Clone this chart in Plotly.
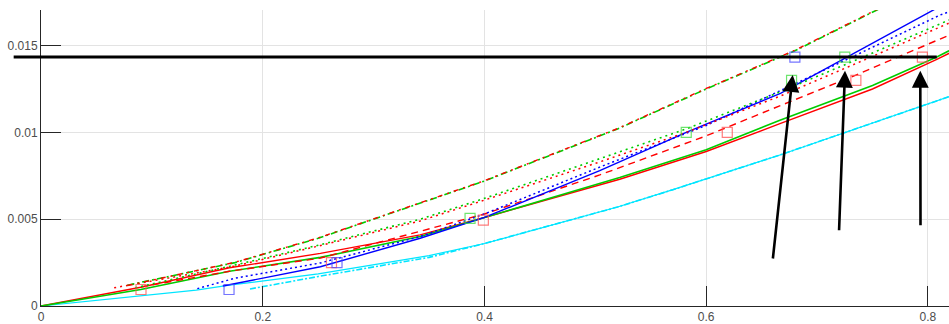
import plotly.graph_objects as go

# ---- data ----
x_ticks = [0, 0.2, 0.4, 0.6, 0.8]
x_tick_text = ["0", "0.2", "0.4", "0.6", "0.8"]
y_ticks = [0, 0.005, 0.01, 0.015]
y_tick_text = ["0", "0.005", "0.01", "0.015"]

cyan_solid_x = [0, 0.14, 0.17, 0.25, 0.35, 0.40, 0.52, 0.57, 0.6665, 0.819, 0.83]
cyan_solid_y = [0, 0.00092, 0.0012, 0.00185, 0.0029, 0.0036, 0.0057, 0.0067, 0.0087, 0.0121, 0.0123]
cyan_dashdot_x = [0.1885, 0.25, 0.35, 0.40, 0.52, 0.57, 0.6665, 0.819, 0.83]
cyan_dashdot_y = [0.00098, 0.0017, 0.0028, 0.0036, 0.0057, 0.0067, 0.0087, 0.0121, 0.0123]

red_solid_x = [0, 0.09, 0.17, 0.252, 0.342, 0.40, 0.522, 0.60, 0.6665, 0.75, 0.808, 0.819, 0.83]
red_solid_y = [0, 0.00108, 0.0022, 0.00303, 0.0041, 0.0051, 0.0073, 0.0089, 0.0105, 0.0125, 0.0142, 0.01455, 0.0149]
green_solid_x = [0, 0.09, 0.17, 0.252, 0.342, 0.40, 0.522, 0.60, 0.6665, 0.75, 0.808, 0.819, 0.83]
green_solid_y = [0, 0.00095, 0.0020, 0.0028, 0.0040, 0.0051, 0.0074, 0.0090, 0.0107, 0.0127, 0.01434, 0.0147, 0.0151]

red_dashed_x = [0.09, 0.17, 0.252, 0.40, 0.504, 0.60, 0.6575, 0.735, 0.819, 0.83]
red_dashed_y = [0.0011, 0.0020, 0.00276, 0.0053, 0.00755, 0.0098, 0.0113, 0.0133, 0.0156, 0.0159]

blue_solid_x = [0.164, 0.252, 0.342, 0.40, 0.504, 0.582, 0.667, 0.73, 0.8045, 0.815]
blue_solid_y = [0.00115, 0.00226, 0.0039, 0.0051, 0.0078, 0.0100, 0.01225, 0.01445, 0.01705, 0.0174]
blue_dotted_x = [0.141, 0.175, 0.252, 0.342, 0.40, 0.504, 0.60, 0.667, 0.74, 0.811, 0.83]
blue_dotted_y = [0.0010, 0.0016, 0.00248, 0.0040, 0.0053, 0.0080, 0.0104, 0.0124, 0.0146, 0.01676, 0.0172]

red_dotted_x = [0.066, 0.175, 0.25, 0.342, 0.40, 0.504, 0.582, 0.667, 0.74, 0.819, 0.83]
red_dotted_y = [0.00105, 0.0023, 0.00345, 0.0049, 0.0061, 0.0083, 0.0100, 0.0121, 0.0141, 0.0163, 0.0166]
green_dotted_x = [0.085, 0.175, 0.25, 0.342, 0.40, 0.504, 0.582, 0.667, 0.74, 0.819, 0.83]
green_dotted_y = [0.00105, 0.00236, 0.0035, 0.0050, 0.0062, 0.0085, 0.0102, 0.01234, 0.0143, 0.01647, 0.0168]

green_dashdot_x = [0.078, 0.175, 0.25, 0.40, 0.52, 0.60, 0.68, 0.754, 0.78]
green_dashdot_y = [0.0012, 0.0025, 0.0039, 0.0072, 0.0102, 0.0125, 0.0147, 0.01705, 0.0178]
red_dashdot_x = [0.078, 0.175, 0.25, 0.40, 0.52, 0.60, 0.68, 0.754, 0.78]
red_dashdot_y = [0.00118, 0.00252, 0.00392, 0.00722, 0.01022, 0.01253, 0.01473, 0.01708, 0.0178]

red_sq_x = [0.0902, 0.262, 0.399, 0.619, 0.735, 0.795]
red_sq_y = [0.00095, 0.0025, 0.00495, 0.0100, 0.0130, 0.01434]
green_sq_x = [0.387, 0.582, 0.677, 0.725]
green_sq_y = [0.00505, 0.0100, 0.0130, 0.01434]
blue_sq_x = [0.1696, 0.267, 0.680]
blue_sq_y = [0.00095, 0.0025, 0.01434]

threshold_y = 0.01434
threshold_x = [-0.026, 0.808]

arrow_tail_x = [0.660, 0.7198, 0.7933]
arrow_tail_y = [0.00265, 0.00428, 0.00457]
arrow_head_x = [0.678, 0.7252, 0.7931]
arrow_head_y = [0.0133, 0.01355, 0.01355]

RED = "#ff0000"
GREEN = "#00cc00"
BLUE = "#0000ff"
CYAN = "#00e5ff"

fig = go.Figure()

def add_line(x, y, color, dash, width=1.4):
    fig.add_trace(go.Scatter(x=x, y=y, mode="lines",
                             line=dict(color=color, dash=dash, width=width),
                             showlegend=False, hoverinfo="skip"))

add_line(cyan_solid_x, cyan_solid_y, CYAN, "solid", 1.2)
add_line(cyan_dashdot_x, cyan_dashdot_y, CYAN, "6px,2px,2px,2px", 1.6)
add_line(red_solid_x, red_solid_y, RED, "solid", 1.4)
add_line(green_solid_x, green_solid_y, GREEN, "solid", 1.6)
add_line(red_dashed_x, red_dashed_y, RED, "7px,5px", 1.4)
add_line(blue_dotted_x, blue_dotted_y, BLUE, "2px,3px", 1.5)
add_line(blue_solid_x, blue_solid_y, BLUE, "solid", 1.4)
add_line(red_dotted_x, red_dotted_y, RED, "2px,4px", 1.5)
add_line(green_dotted_x, green_dotted_y, GREEN, "2px,4px", 1.6)
add_line(green_dashdot_x, green_dashdot_y, GREEN, "7px,3px,2px,3px", 1.6)
add_line(red_dashdot_x, red_dashdot_y, RED, "5px,5px,2px,5px", 1.4)

def add_squares(x, y, color):
    fig.add_trace(go.Scatter(x=x, y=y, mode="markers",
                             marker=dict(symbol="square-open", size=10,
                                         color=color, line=dict(width=1.2, color=color)),
                             showlegend=False, hoverinfo="skip"))

add_squares(red_sq_x, red_sq_y, "rgba(255,80,80,0.75)")
add_squares(green_sq_x, green_sq_y, "rgba(60,220,60,0.75)")
add_squares(blue_sq_x, blue_sq_y, "rgba(70,70,255,0.75)")

# threshold line (extends left of the axis, so drawn as a headless annotation arrow)
fig.add_annotation(x=threshold_x[1], y=threshold_y, ax=threshold_x[0], ay=threshold_y,
                   xref="x", yref="y", axref="x", ayref="y", text="",
                   showarrow=True, arrowhead=0, arrowwidth=3, arrowcolor="black",
                   standoff=0, startstandoff=0)

for tx, ty, hx, hy in zip(arrow_tail_x, arrow_tail_y, arrow_head_x, arrow_head_y):
    fig.add_annotation(x=hx, y=hy, ax=tx, ay=ty,
                       xref="x", yref="y", axref="x", ayref="y", text="",
                       showarrow=True, arrowhead=2, arrowsize=1.3, arrowwidth=2.6,
                       arrowcolor="black", standoff=0, startstandoff=0)

axis_common = dict(showline=True, linecolor="#262626", linewidth=1,
                   ticks="inside", ticklen=20, tickcolor="#262626", tickwidth=1,
                   showgrid=True, gridcolor="#e3e3e3", gridwidth=1,
                   zeroline=False, mirror=False,
                   tickfont=dict(family="Liberation Sans, Arial, sans-serif", size=12, color="#4d4d4d"))

fig.update_layout(
    width=949, height=324,
    margin=dict(l=41, r=0, t=10, b=18),
    paper_bgcolor="white", plot_bgcolor="white",
    xaxis=dict(range=[0, 0.819], tickvals=x_ticks, ticktext=x_tick_text, **axis_common),
    yaxis=dict(range=[0, 0.01705], tickvals=y_ticks, ticktext=y_tick_text, **axis_common),
)

fig.write_html("out.html", config={"displayModeBar": False},
               post_script="document.body.style.margin='0';document.body.style.overflow='hidden';")
